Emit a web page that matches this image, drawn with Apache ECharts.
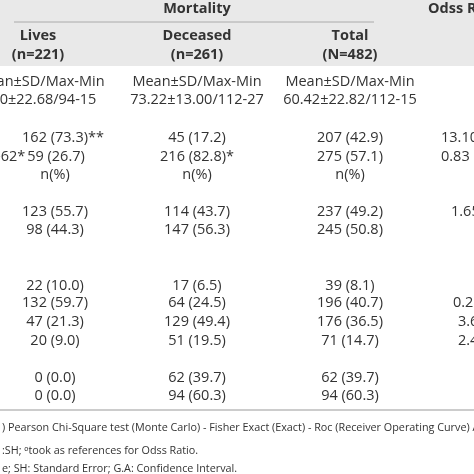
<!DOCTYPE html>
<html><head><meta charset="utf-8">
<script src="https://cdn.jsdelivr.net/npm/echarts@6/dist/echarts.min.js"></script>
<style>html,body{margin:0;padding:0;background:#fff}#c{width:474px;height:474px}</style>
</head><body><div id="c"></div>
<script>
// table content, one row per line: [y, lives, deceased, total, odds]
const rowY = [82, 100, 138, 157, 175, 212, 230, 286, 303, 322, 341, 378, 396];
const lives = ['Mean±SD/Max-Min', '.30±22.68/94-15', '162 (73.3)**', '59 (26.7)', 'n(%)', '123 (55.7)', '98 (44.3)',
  '22 (10.0)', '132 (59.7)', '47 (21.3)', '20 (9.0)', '0 (0.0)', '0 (0.0)'];
const deceased = ['Mean±SD/Max-Min', '73.22±13.00/112-27', '45 (17.2)', '216 (82.8)*', 'n(%)', '114 (43.7)', '147 (56.3)',
  '17 (6.5)', '64 (24.5)', '129 (49.4)', '51 (19.5)', '62 (39.7)', '94 (60.3)'];
const total = ['Mean±SD/Max-Min', '60.42±22.82/112-15', '207 (42.9)', '275 (57.1)', 'n(%)', '237 (49.2)', '245 (50.8)',
  '39 (8.1)', '196 (40.7)', '176 (36.5)', '71 (14.7)', '62 (39.7)', '94 (60.3)'];
const odds = ['', '', '13.10', '0.83', '', '1.65', '', '', '0.2 (', '3.65', '2.45', '', ''];
const oddsX = [0, 0, 441, 441, 0, 451, 0, 0, 453, 458, 458, 0, 0];
const footer = [
  ') Pearson Chi-Square test (Monte Carlo) - Fisher Exact (Exact) - Roc (Receiver Operating Curve) Analysis',
  ':SH; ᵒtook as references for Odss Ratio.',
  'e; SH: Standard Error; G.A: Confidence Interval.'
];
const footerY = [428, 451, 469];

const font = '"Open Sans", sans-serif';
const color = '#333';
const els = [];
els.push({ type: 'rect', shape: { x: 0, y: 0, width: 474, height: 66 }, style: { fill: '#e9e9e9' } });
els.push({ type: 'line', shape: { x1: 14, y1: 22, x2: 374, y2: 22 }, style: { stroke: '#aaa', lineWidth: 1 } });
els.push({ type: 'line', shape: { x1: 0, y1: 410, x2: 474, y2: 410 }, style: { stroke: '#999', lineWidth: 1 } });

function txt(x, y, s, o) {
  els.push({ type: 'text', x, y, style: Object.assign({ text: s, fill: color, font: '14.5px ' + font,
    textAlign: 'center', textVerticalAlign: 'middle' }, o || {}) });
}
const bold = 'bold 14.5px ' + font;
txt(197, 9, 'Mortality', { font: bold });
txt(428, 9, 'Odss Ratio', { font: bold, textAlign: 'left' });
[['Lives', '(n=221)', 38], ['Deceased', '(n=261)', 197], ['Total', '(N=482)', 350]].forEach(h => {
  txt(h[2], 36, h[0], { font: bold });
  txt(h[2], 55, h[1], { font: bold });
});
rowY.forEach((y, i) => {
  let lx = 55;
  if (i === 0) lx = 40;
  if (i === 1) lx = 42;
  if (i === 2) lx = 63;
  if (i === 3) lx = 56;
  txt(lx, y, lives[i]);
  txt(197, y, deceased[i]);
  txt(350, y, total[i]);
  if (odds[i]) txt(oddsX[i], y, odds[i], { textAlign: 'left' });
});
txt(-4, 157, '-62*', { textAlign: 'left' });
footer.forEach((s, i) => txt(2, footerY[i], s, { textAlign: 'left', font: '10.8px ' + font }));

const chart = echarts.init(document.getElementById('c'));
chart.setOption({ animation: false, graphic: { elements: els } });
</script></body></html>
